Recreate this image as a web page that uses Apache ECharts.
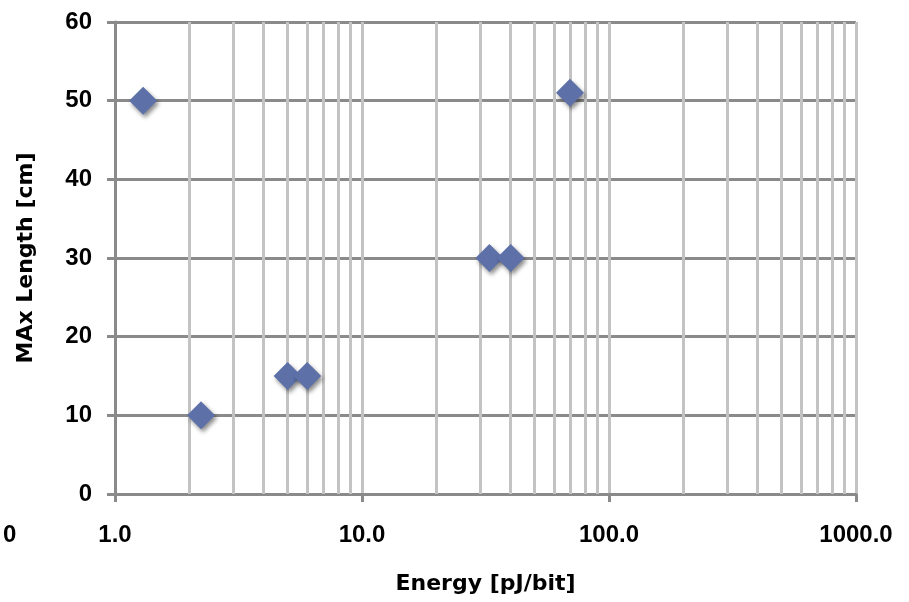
<!DOCTYPE html>
<html>
<head>
<meta charset="utf-8">
<script src="https://cdn.jsdelivr.net/npm/echarts@6/dist/echarts.min.js"></script>
<style>html,body{margin:0;padding:0;background:#fff;}#c{width:909px;height:602px;}</style>
</head>
<body>
<div id="c"></div>
<script>
// Data
const energy = [1.3, 2.23, 5.0, 6.0, 32.8, 40.0, 69.5];   // pJ/bit
const maxLength = [50, 10, 15, 15, 30, 30, 51];           // cm
const xMinorGrid = [2,3,4,5,6,7,8,9,20,30,40,50,60,70,80,90,200,300,400,500,600,700,800,900];
const xAxisName = 'Energy [pJ/bit]';
const yAxisName = 'MAx Length [cm]';

const tickFont = 'Liberation Sans';
const nameFont = 'DejaVu Sans';
const chart = echarts.init(document.getElementById('c'));
chart.setOption({
  animation: false,
  backgroundColor: '#ffffff',
  grid: { left: 115, right: 53, top: 22, bottom: 108, containLabel: false, outerBoundsMode: 'none' },
  xAxis: {
    type: 'log', logBase: 10, min: 1, max: 1000,
    name: xAxisName, nameLocation: 'middle', nameGap: 79,
    nameTextStyle: { fontFamily: nameFont, fontWeight: 'bold', fontSize: 22, color: '#000' },
    axisLine: { show: true, onZero: false, lineStyle: { color: '#8a8a8a', width: 3 } },
    axisTick: { show: true, length: 8, lineStyle: { color: '#8a8a8a', width: 3 } },
    axisLabel: { margin: 29, fontFamily: tickFont, fontWeight: 'bold', fontSize: 24, color: '#000',
      formatter: v => Number(v).toFixed(1) },
    splitLine: { show: true, lineStyle: { color: '#c3c3c3', width: 3 } },
    minorTick: { show: false }, minorSplitLine: { show: false }
  },
  yAxis: {
    type: 'value', min: 0, max: 60, interval: 10,
    name: yAxisName, nameLocation: 'middle', nameGap: 78,
    nameTextStyle: { fontFamily: nameFont, fontWeight: 'bold', fontSize: 22, color: '#000' },
    axisLine: { show: true, lineStyle: { color: '#8a8a8a', width: 3 } },
    axisTick: { show: true, length: 8, lineStyle: { color: '#8a8a8a', width: 3 } },
    axisLabel: { margin: 23, fontFamily: tickFont, fontWeight: 'bold', fontSize: 24, color: '#000' },
    splitLine: { show: true, lineStyle: { color: '#8a8a8a', width: 3 } }
  },
  graphic: [{
    type: 'text', left: 3, top: 523,
    style: { text: '0', font: 'bold 24px "Liberation Sans"', fill: '#000' }
  }],
  series: [
    {
      type: 'scatter', data: [], z: 1, silent: true,
      markLine: {
        silent: true, symbol: 'none', animation: false,
        label: { show: false },
        lineStyle: { color: '#c3c3c3', width: 3, type: 'solid' },
        emphasis: { disabled: true },
        data: xMinorGrid.map(v => ({ xAxis: v }))
      }
    },
    {
      type: 'scatter', z: 5,
      symbol: 'diamond', symbolSize: 28,
      data: energy.map((e, i) => [e, maxLength[i]]),
      itemStyle: {
        color: '#5d70a8', opacity: 1,
        shadowColor: 'rgba(0,0,0,0.45)', shadowBlur: 4, shadowOffsetX: 2, shadowOffsetY: 3
      }
    }
  ]
});
</script>
</body>
</html>
